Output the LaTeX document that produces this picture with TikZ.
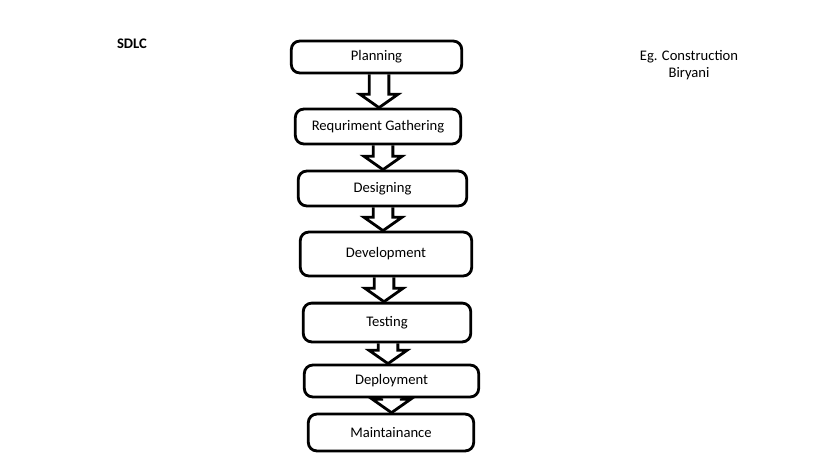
\documentclass[tikz,border=0pt]{standalone}
\usepackage{fontspec}
\setmainfont{Carlito}
\usetikzlibrary{calc}

\begin{document}
\begin{tikzpicture}[x=0.025cm,y=-0.025cm,
    every node/.style={font=\fontsize{10.4}{12.6}\selectfont},
    stage/.style={draw,line width=2pt,rounded corners=6pt,inner sep=0pt},
    blockto/.style={line width=2pt,miter limit=20,to path={
        let \p1=(\tikztostart),\p2=(\tikztotarget) in
        (\x1-7pt,\y1) -- (\x1-7pt,\y2+9.5pt) -- (\x1-13.5pt,\y2+9.5pt) -- (\x1,\y2)
        -- (\x1+13.5pt,\y2+9.5pt) -- (\x1+7pt,\y2+9.5pt) -- (\x1+7pt,\y1)}}]
  \useasboundingbox (0,0) rectangle (819,460);
  \node[font=\fontsize{10.4}{12.6}\selectfont\bfseries] (title) at (132,44) {SDLC};
  \node[align=center] (eg) at (689,65) {Eg. Construction\\Biryani};
  % the stages
  \node[stage,minimum width=121.2pt,minimum height=22.7pt] (plan) at (376.5,57) {Planning};
  \node[stage,minimum width=117.6pt,minimum height=24.8pt] (req) at (378,126.5) {Requriment Gathering};
  \node[stage,minimum width=119.8pt,minimum height=24.8pt] (des) at (382.5,188.5) {Designing};
  \node[stage,minimum width=121.9pt,minimum height=31.2pt] (dev) at (386,254) {Development};
  \node[stage,minimum width=119.1pt,minimum height=27.6pt] (test) at (387,322.5) {Testing};
  \node[stage,minimum width=124pt,minimum height=22.7pt] (depl) at (391.5,381) {Deployment};
  \node[stage,minimum width=117.6pt,minimum height=26.2pt] (maint) at (391,432.5) {Maintainance};
  % block arrows
  \draw[blockto] ($(plan.south)+(2.5,0)$) to (req.north);
  \draw[blockto] ($(req.south)+(5,0)$) to (des.north);
  \draw[blockto] ($(des.south)+(0.5,0)$) to (dev.north);
  \draw[blockto] ($(dev.south)+(-2,0)$) to (test.north);
  \draw[blockto] ($(test.south)+(1,0)$) to (depl.north);
  \draw[blockto] ($(depl.south)+(0,0)$) to (maint.north);
\end{tikzpicture}
\end{document}
